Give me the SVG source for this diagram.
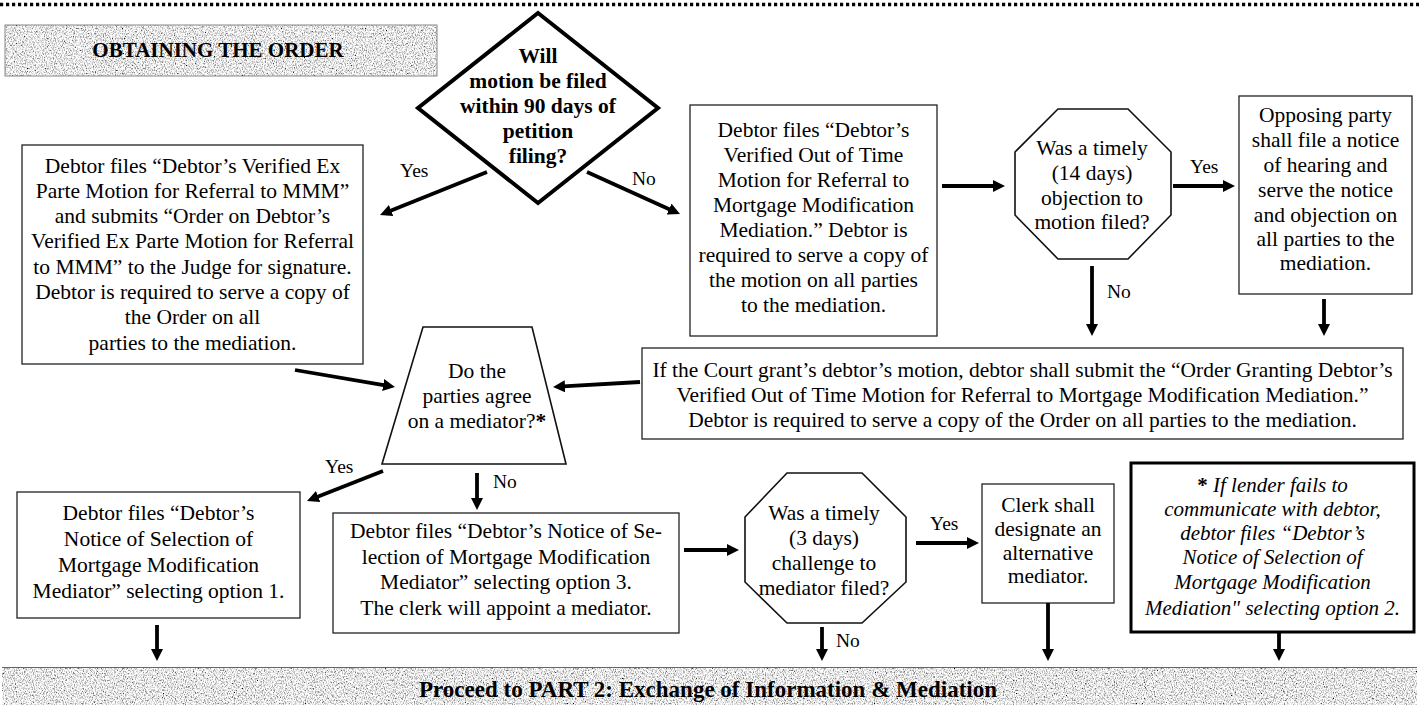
<svg xmlns="http://www.w3.org/2000/svg" width="1419" height="705" viewBox="0 0 1419 705">
<style>
.t{font-family:"Liberation Serif","Times New Roman","DejaVu Serif",serif;font-size:21.5px;fill:#000;text-anchor:middle}
.b{font-weight:bold}
.i{font-style:italic;font-size:21px}
.lbl{font-family:"Liberation Serif","Times New Roman","DejaVu Serif",serif;font-size:19.5px;fill:#000}
.box{fill:#fff;stroke:#222;stroke-width:1.3}
.oct{fill:#fff;stroke:#111;stroke-width:1.6}
.arr{stroke:#000;stroke-width:3.8;fill:none;marker-end:url(#ah)}
.tex{fill:#ccc;filter:url(#grain)}
</style>
<defs>
<marker id="ah" markerUnits="userSpaceOnUse" markerWidth="13" markerHeight="12" refX="2" refY="6" orient="auto">
<path d="M0,0 L12,6 L0,12 z" fill="#000"/>
</marker>
<filter id="grain" x="0" y="0" width="1" height="1">
<feTurbulence type="fractalNoise" baseFrequency="0.9 0.6" numOctaves="3" seed="7" result="n"/>
<feColorMatrix in="n" type="matrix" values="2.2 0 0 0 -0.3  2.2 0 0 0 -0.3  2.2 0 0 0 -0.3  0 0 0 0 1" result="g"/>
<feComposite in="g" in2="SourceGraphic" operator="in"/>
</filter>
</defs>
<rect width="1419" height="705" fill="#fff"/>
<line x1="0" y1="4.5" x2="1419" y2="4.5" stroke="#000" stroke-width="3.5" stroke-dasharray="3.2 2.8"/>

<g id="header">
<rect class="tex" x="5" y="25" width="432" height="51"/>
<rect x="5" y="25" width="432" height="51" fill="none" stroke="#888" stroke-width="1"/>
<text class="t b" x="218" y="57" style="font-size:21px">OBTAINING THE ORDER</text>
</g>

<g id="decision-90days">
<polygon points="538,13 658,108 538,203 418,108" fill="#fff" stroke="#000" stroke-width="4"/>
<text class="t b" x="538" y="63">Will</text>
<text class="t b" x="538" y="88">motion be filed</text>
<text class="t b" x="538" y="113">within 90 days of</text>
<text class="t b" x="538" y="138">petition</text>
<text class="t b" x="538" y="163">filing?</text>
</g>

<g id="box-exparte">
<rect class="box" x="22" y="145" width="341" height="219"/>
<text class="t" x="192.5" y="172.5">Debtor files “Debtor’s Verified Ex</text>
<text class="t" x="192.5" y="197.8">Parte Motion for Referral to MMM”</text>
<text class="t" x="192.5" y="223.1">and submits “Order on Debtor’s</text>
<text class="t" x="192.5" y="248.4">Verified Ex Parte Motion for Referral</text>
<text class="t" x="192.5" y="273.7">to MMM” to the Judge for signature.</text>
<text class="t" x="192.5" y="299">Debtor is required to serve a copy of</text>
<text class="t" x="192.5" y="324.3">the Order on all</text>
<text class="t" x="192.5" y="349.6">parties to the mediation.</text>
</g>

<g id="box-outoftime">
<rect class="box" x="690" y="105" width="247" height="231"/>
<text class="t" x="813.5" y="137">Debtor files “Debtor’s</text>
<text class="t" x="813.5" y="162">Verified Out of Time</text>
<text class="t" x="813.5" y="187">Motion for Referral to</text>
<text class="t" x="813.5" y="212">Mortgage Modification</text>
<text class="t" x="813.5" y="237">Mediation.” Debtor is</text>
<text class="t" x="813.5" y="262">required to serve a copy of</text>
<text class="t" x="813.5" y="287">the motion on all parties</text>
<text class="t" x="813.5" y="312">to the mediation.</text>
</g>

<g id="decision-14days">
<polygon class="oct" points="1058,109 1128,109 1171,152 1171,215 1128,259 1058,259 1015,215 1015,152"/>
<text class="t" x="1092" y="155">Was a timely</text>
<text class="t" x="1092" y="180">(14 days)</text>
<text class="t" x="1092" y="205">objection to</text>
<text class="t" x="1092" y="229">motion filed?</text>
</g>

<g id="box-opposing">
<rect class="box" x="1239" y="96" width="173" height="198"/>
<text class="t" x="1325.5" y="122">Opposing party</text>
<text class="t" x="1325.5" y="147">shall file a notice</text>
<text class="t" x="1325.5" y="172">of hearing and</text>
<text class="t" x="1325.5" y="197">serve the notice</text>
<text class="t" x="1325.5" y="221.5">and objection on</text>
<text class="t" x="1325.5" y="246">all parties to the</text>
<text class="t" x="1325.5" y="270">mediation.</text>
</g>

<g id="box-order-granting">
<rect class="box" x="642" y="348" width="761" height="91"/>
<text class="t" x="1022.5" y="377">If the Court grant’s debtor’s motion, debtor shall submit the “Order Granting Debtor’s</text>
<text class="t" x="1022.5" y="402">Verified Out of Time Motion for Referral to Mortgage Modification Mediation.”</text>
<text class="t" x="1022.5" y="427">Debtor is required to serve a copy of the Order on all parties to the mediation.</text>
</g>

<g id="decision-mediator">
<polygon points="423,327 532,327 566,464 382,464" fill="#fff" stroke="#111" stroke-width="1.6"/>
<text class="t" x="477" y="378">Do the</text>
<text class="t" x="477" y="403">parties agree</text>
<text class="t" x="477" y="428">on a mediator?<tspan class="b">*</tspan></text>
</g>

<g id="box-option1">
<rect class="box" x="17" y="492" width="283" height="126"/>
<text class="t" x="158.5" y="520">Debtor files “Debtor’s</text>
<text class="t" x="158.5" y="546">Notice of Selection of</text>
<text class="t" x="158.5" y="572">Mortgage Modification</text>
<text class="t" x="158.5" y="598">Mediator” selecting option 1.</text>
</g>

<g id="box-option3">
<rect class="box" x="333" y="513" width="346" height="120"/>
<text class="t" x="506" y="538">Debtor files “Debtor’s Notice of Se-</text>
<text class="t" x="506" y="563.5">lection of Mortgage Modification</text>
<text class="t" x="506" y="589">Mediator” selecting option 3.</text>
<text class="t" x="506" y="614.5">The clerk will appoint a mediator.</text>
</g>

<g id="decision-3days">
<polygon class="oct" points="787,473 862,473 906,517 906,582 862,623 787,623 745,582 745,517"/>
<text class="t" x="824" y="520">Was a timely</text>
<text class="t" x="824" y="545">(3 days)</text>
<text class="t" x="824" y="570">challenge to</text>
<text class="t" x="824" y="595">mediator filed?</text>
</g>

<g id="box-clerk">
<rect class="box" x="982" y="484" width="132" height="119"/>
<text class="t" x="1048" y="512">Clerk shall</text>
<text class="t" x="1048" y="536">designate an</text>
<text class="t" x="1048" y="560">alternative</text>
<text class="t" x="1048" y="583">mediator.</text>
</g>

<g id="box-footnote">
<rect x="1131" y="463" width="283" height="169" fill="#fff" stroke="#000" stroke-width="3"/>
<text class="t i" x="1272.5" y="492"><tspan class="b" style="font-style:normal">*</tspan> If lender fails to</text>
<text class="t i" x="1272.5" y="516">communicate with debtor,</text>
<text class="t i" x="1272.5" y="540">debtor files “Debtor’s</text>
<text class="t i" x="1272.5" y="564">Notice of Selection of</text>
<text class="t i" x="1272.5" y="589">Mortgage Modification</text>
<text class="t i" x="1272.5" y="615">Mediation" selecting option 2.</text>
</g>

<g id="banner-part2">
<rect class="tex" x="2" y="667" width="1415" height="38"/>
<line x1="2" y1="667.5" x2="1417" y2="667.5" stroke="#666" stroke-width="1.2"/>
<text class="t b" x="708" y="697" style="font-size:23px">Proceed to PART 2: Exchange of Information &amp; Mediation</text>
</g>

<g id="connectors">
<line class="arr" x1="487" y1="172" x2="389.3" y2="211.3"/>
<line class="arr" x1="587" y1="172" x2="670.9" y2="209.9"/>
<line class="arr" x1="942" y1="186" x2="995" y2="186"/>
<line class="arr" x1="1173" y1="186" x2="1225" y2="186"/>
<line class="arr" x1="1092" y1="266" x2="1092" y2="326"/>
<line class="arr" x1="1324" y1="299" x2="1324" y2="326"/>
<line class="arr" x1="295" y1="370" x2="385.1" y2="385.3"/>
<line class="arr" x1="640" y1="382" x2="563" y2="386.4"/>
<line class="arr" x1="383" y1="471" x2="316.3" y2="497.3"/>
<line class="arr" x1="477" y1="473" x2="477" y2="500"/>
<line class="arr" x1="684" y1="550" x2="729" y2="550"/>
<line class="arr" x1="916" y1="543" x2="969" y2="543"/>
<line class="arr" x1="822" y1="627" x2="822" y2="651"/>
<line class="arr" x1="157" y1="625" x2="157" y2="651"/>
<line class="arr" x1="1048" y1="603" x2="1048" y2="651"/>
<line class="arr" x1="1279" y1="632" x2="1279" y2="651"/>
<text class="lbl" x="400" y="177">Yes</text>
<text class="lbl" x="632" y="185">No</text>
<text class="lbl" x="1190" y="173">Yes</text>
<text class="lbl" x="1107" y="298">No</text>
<text class="lbl" x="325" y="473">Yes</text>
<text class="lbl" x="493" y="488">No</text>
<text class="lbl" x="930" y="530">Yes</text>
<text class="lbl" x="836" y="647">No</text>
</g>
</svg>
